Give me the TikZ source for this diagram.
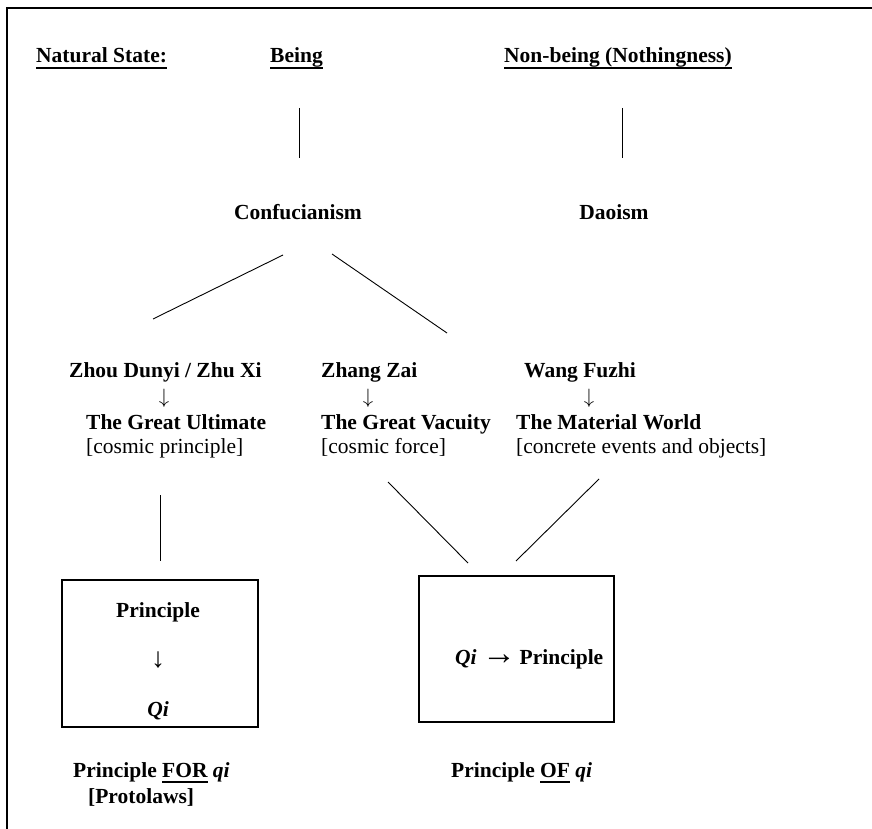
\documentclass[tikz,border=0pt]{standalone}
\usepackage{fontspec}
\setmainfont{Liberation Serif}
\newcommand{\ulbar}[1]{\setbox0\hbox{#1}\rlap{\vrule height -4.2pt depth 5.6pt width \wd0}\box0\relax}

\begin{document}
\begin{tikzpicture}[x=1pt, y=-1pt,
    lbl/.style={anchor=base west, inner sep=0pt, font=\fontsize{21.5}{25}\selectfont\bfseries},
    note/.style={anchor=base west, inner sep=0pt, font=\fontsize{21.5}{25}\selectfont},
    mid/.style={anchor=base, inner sep=0pt, font=\fontsize{21.5}{25}\selectfont\bfseries},
    down/.style={anchor=center, inner sep=0pt, font=\fontsize{22}{24}\selectfont},
    tie/.style={line width=0.9pt},
    frame/.style={line width=1.6pt},
    box/.style={draw, line width=1.2pt, minimum width=196pt, minimum height=147pt, inner sep=0pt}]
    \useasboundingbox (0,0) rectangle (872,829);
    \draw[frame] (7,829) -- (7,8) -- (872,8);

    \node[lbl] (state) at (36,63) {\ulbar{Natural State:}};
    \node[lbl] (being) at (270,63) {\ulbar{Being}};
    \node[lbl] (nonbeing) at (504,63) {\ulbar{Non-being (Nothingness)}};

    \node[mid] (conf) at (298,219) {Confucianism};
    \node[mid] (dao) at (614,219) {Daoism};

    \node[lbl] (zhou) at (69,377) {Zhou Dunyi / Zhu Xi};
    \node[down] (zhou-d) at (164,398.5) {$\downarrow$};
    \node[lbl] (ultimate) at (86,429) {The Great Ultimate};
    \node[note] (ultimate-n) at (86,453) {[cosmic principle]};

    \node[lbl] (zhang) at (321,377) {Zhang Zai};
    \node[down] (zhang-d) at (368,398.5) {$\downarrow$};
    \node[lbl] (vacuity) at (321,429) {The Great Vacuity};
    \node[note] (vacuity-n) at (321,453) {[cosmic force]};

    \node[lbl] (wang) at (524,377) {Wang Fuzhi};
    \node[down] (wang-d) at (589,398.5) {$\downarrow$};
    \node[lbl] (material) at (516,429) {The Material World};
    \node[note] (material-n) at (516,453) {[concrete events and objects]};

    \node[box] (forbox) at (160,653.5) {};
    \node[mid] (forbox-p) at (158,617) {Principle};
    \node[down, font=\fontsize{28}{30}\selectfont\bfseries] (forbox-d) at (158,660) {↓};
    \node[mid] (forbox-q) at (158,716) {\textit{Qi}};

    \node[box, minimum width=195pt, minimum height=146pt] (ofbox) at (516.5,649) {};
    \node[lbl] (ofbox-t) at (455,664) {\textit{Qi} {\fontsize{34}{36}\selectfont→}\,Principle};

    \node[lbl] (forlbl) at (73,777) {Principle \ulbar{FOR} \textit{qi}};
    \node[lbl] (proto) at (88,803) {[Protolaws]};
    \node[lbl] (oflbl) at (451,777) {Principle \ulbar{OF} \textit{qi}};

    \coordinate (being-s) at (299,108);
    \coordinate (conf-n) at (299,158);
    \coordinate (nonbeing-s) at (622,108);
    \coordinate (dao-n) at (622,158);
    \coordinate (conf-sw) at (283,255);
    \coordinate (zhou-n) at (153,319);
    \coordinate (conf-se) at (332,254);
    \coordinate (zhang-n) at (447,333);
    \coordinate (ultimate-s) at (160,495);
    \coordinate (forbox-n) at (160,561);
    \coordinate (vacuity-s) at (388,482);
    \coordinate (ofbox-nw) at (468,563);
    \coordinate (material-s) at (599,479);
    \coordinate (ofbox-ne) at (516,561);

    \draw[tie] (being-s) -- (conf-n);
    \draw[tie] (nonbeing-s) -- (dao-n);
    \draw[tie] (conf-sw) -- (zhou-n);
    \draw[tie] (conf-se) -- (zhang-n);
    \draw[tie] (ultimate-s) -- (forbox-n);
    \draw[tie] (vacuity-s) -- (ofbox-nw);
    \draw[tie] (material-s) -- (ofbox-ne);
\end{tikzpicture}
\end{document}
